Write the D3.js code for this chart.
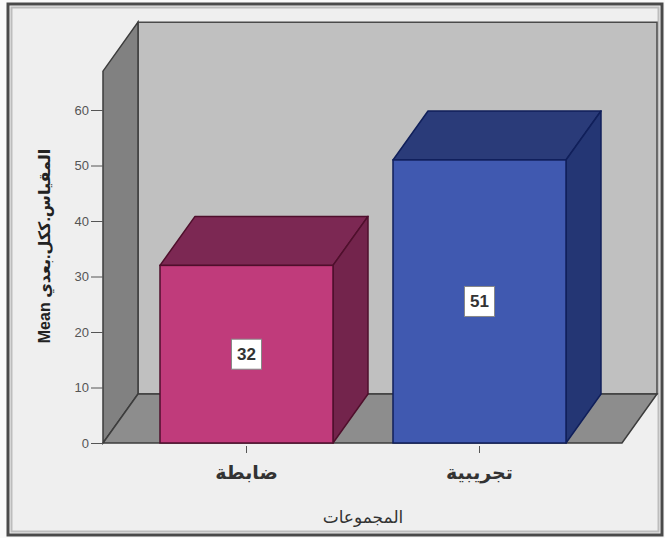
<!DOCTYPE html>
<html><head><meta charset="utf-8">
<script src="https://cdn.jsdelivr.net/npm/d3@7"></script>
<style>body{margin:0;background:#fff}svg{display:block}</style>
</head><body>
<svg id="c" width="665" height="538"></svg>
<script>
const categories = ["ضابطة", "تجريبية"];
const means = [32, 51];
const labels = ["32", "51"];
const yTicks = [0, 10, 20, 30, 40, 50, 60];
const yTitle = "Mean المقياس.ككل.بعدي";
const xTitle = "المجموعات";
const frontColors = ["#c03b7b", "#4059b0"];
const topColors = ["#7c2853", "#2a3b79"];
const sideColors = ["#73244c", "#243674"];
const edgeColors = ["#4f0f2c", "#101f5a"];

const svg = d3.select("#c");
const font = "Arial, 'Liberation Sans', 'DejaVu Sans', sans-serif";

// frame
svg.append("rect").attr("x", 0).attr("y", 0).attr("width", 665).attr("height", 538).attr("fill", "#fafafa");
svg.append("rect").attr("x", 8).attr("y", 4).attr("width", 654).attr("height", 531)
  .attr("fill", "#efefef").attr("stroke", "#4a4a4a").attr("stroke-width", 3);
svg.append("rect").attr("x", 11.5).attr("y", 7.5).attr("width", 647).attr("height", 524)
  .attr("fill", "none").attr("stroke", "#bdbdbd").attr("stroke-width", 2);

const y = d3.scaleLinear().domain([0, 60]).range([443, 110]);
const x = d3.scaleBand().domain(categories).range([130, 596]).paddingInner(0.2575).paddingOuter(0.12875);
const dx = 35, dy = -49;
const floorL = 103, floorR = 622;
const wallTop = y(67);
const y0 = y(0);

const pts = a => a.map(p => p.join(",")).join(" ");
// back wall
svg.append("polygon").attr("points", pts([[floorL+dx, y0+dy],[floorL+dx, wallTop+dy],[floorR+dx, wallTop+dy],[floorR+dx, y0+dy]]))
  .attr("fill", "#c0c0c0").attr("stroke", "#4a4a4a").attr("stroke-width", 1.5);
// left wall
svg.append("polygon").attr("points", pts([[floorL, y0],[floorL, wallTop],[floorL+dx, wallTop+dy],[floorL+dx, y0+dy]]))
  .attr("fill", "#818181").attr("stroke", "#3c3c3c").attr("stroke-width", 1.5);
// floor
svg.append("polygon").attr("points", pts([[floorL, y0],[floorR, y0],[floorR+dx, y0+dy],[floorL+dx, y0+dy]]))
  .attr("fill", "#8d8d8d").attr("stroke", "#3c3c3c").attr("stroke-width", 1.5);

// y axis
const yAxis = d3.axisLeft(y).tickValues(yTicks).tickSize(12).tickPadding(2);
const yg = svg.append("g").attr("transform", `translate(${floorL},0)`).call(yAxis);
yg.select(".domain").remove();
yg.selectAll(".tick line").attr("stroke", "#555");
yg.selectAll(".tick text").attr("font-family", font).attr("font-size", 13).attr("fill", "#555");

// bars
means.forEach((v, i) => {
  const c = categories[i];
  const x0 = x(c), x1 = x(c) + x.bandwidth(), yt = y(v);
  const g = svg.append("g");
  g.append("polygon").attr("points", pts([[x0, yt],[x1, yt],[x1+dx, yt+dy],[x0+dx, yt+dy]]))
    .attr("fill", topColors[i]).attr("stroke", edgeColors[i]).attr("stroke-width", 1.5).attr("stroke-linejoin", "round");
  g.append("polygon").attr("points", pts([[x1, yt],[x1+dx, yt+dy],[x1+dx, y0+dy],[x1, y0]]))
    .attr("fill", sideColors[i]).attr("stroke", edgeColors[i]).attr("stroke-width", 1.5).attr("stroke-linejoin", "round");
  g.append("rect").attr("x", x0).attr("y", yt).attr("width", x.bandwidth()).attr("height", y0 - yt)
    .attr("fill", frontColors[i]).attr("stroke", edgeColors[i]).attr("stroke-width", 1.5);
  const cx = x0 + x.bandwidth() / 2, cy = (yt + y0) / 2;
  g.append("rect").attr("x", cx - 15).attr("y", cy - 15).attr("width", 30).attr("height", 30)
    .attr("fill", "#fff").attr("stroke", "#888").attr("stroke-width", 1);
  g.append("text").attr("x", cx).attr("y", cy + 6).attr("text-anchor", "middle")
    .attr("font-family", font).attr("font-size", 17).attr("font-weight", "bold").attr("fill", "#333").text(labels[i]);
});

// x axis
const xAxis = d3.axisBottom(x).tickSize(7).tickPadding(9);
const xg = svg.append("g").attr("transform", `translate(0,${y0 + 3})`).call(xAxis);
xg.select(".domain").remove();
xg.selectAll(".tick line").attr("stroke", "#555");
xg.selectAll(".tick text").attr("font-family", font).attr("font-size", 19).attr("font-weight", "bold").attr("fill", "#333").attr("dy", "0.9em");

svg.append("text").attr("x", 363).attr("y", 523).attr("text-anchor", "middle")
  .attr("font-family", font).attr("font-size", 17).attr("fill", "#333").text(xTitle);
svg.append("text").attr("transform", "translate(50,246) rotate(-90)").attr("text-anchor", "middle")
  .attr("font-family", font).attr("font-size", 16).attr("font-weight", "bold").attr("fill", "#222").text(yTitle);
</script>
</body></html>
